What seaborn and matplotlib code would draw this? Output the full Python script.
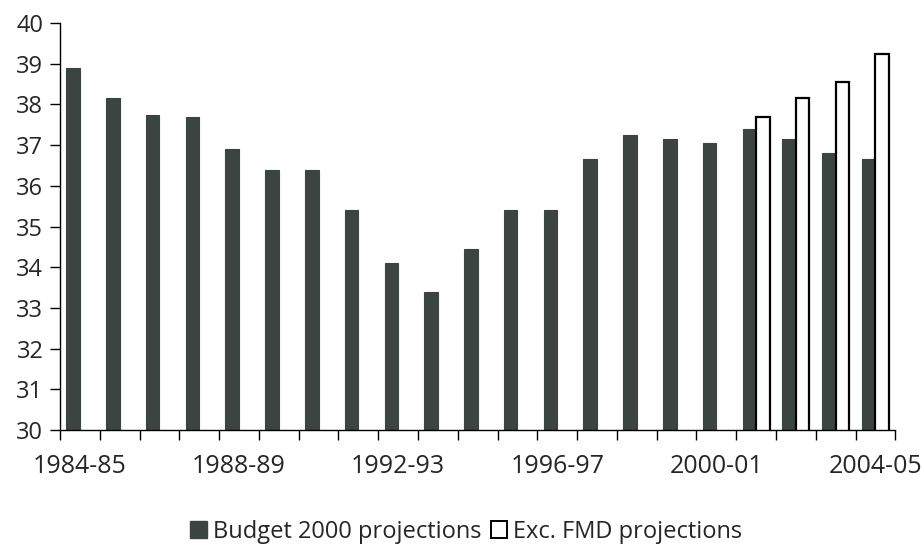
#!/usr/bin/env python3

import numpy as np
import pandas as pd
import matplotlib
matplotlib.use('Agg')
import matplotlib.pyplot as plt
import seaborn as sns

# Data
years = ['1984-85', '1985-86', '1986-87', '1987-88', '1988-89', '1989-90',
         '1990-91', '1991-92', '1992-93', '1993-94', '1994-95', '1995-96',
         '1996-97', '1997-98', '1998-99', '1999-00', '2000-01', '2001-02',
         '2002-03', '2003-04', '2004-05']
budget_2000 = [38.9, 38.15, 37.75, 37.7, 36.9, 36.4, 36.4, 35.4, 34.1, 33.4,
               34.45, 35.4, 35.4, 36.65, 37.25, 37.15, 37.05, 37.4, 37.15,
               36.8, 36.65]
exc_fmd = [np.nan] * 17 + [37.7, 38.15, 38.55, 39.25]

series_names = ['Budget 2000 projections', 'Exc. FMD projections']
shown_labels = ['1984-85', '1988-89', '1992-93', '1996-97', '2000-01', '2004-05']

dark = '#3b4441'

df = pd.DataFrame({
    'year': years * 2,
    'value': budget_2000 + exc_fmd,
    'series': [series_names[0]] * len(years) + [series_names[1]] * len(years),
})

sns.set_style('white')
plt.rcParams['font.family'] = ['Open Sans', 'DejaVu Sans']

fig = plt.figure(figsize=(9.23, 5.5), dpi=100)
ax = fig.add_axes([0.065, 0.218, 0.905, 0.74])

sns.barplot(data=df, x='year', y='value', hue='series', order=years,
            hue_order=series_names, palette=[dark, 'white'], width=0.68,
            saturation=1, legend=False, ax=ax)

# Budget bars: solid dark; FMD bars: white with black outline
for p in ax.containers[0]:
    p.set_edgecolor(dark)
    p.set_linewidth(0.8)
for p in ax.containers[1]:
    p.set_edgecolor('black')
    p.set_linewidth(1.6)

ax.set_ylim(30, 40)
ax.set_xlim(-0.5, len(years) - 0.5)
ax.set_yticks(range(30, 41))
ax.set_xlabel('')
ax.set_ylabel('')

# Labels every 4 years, tick marks on category boundaries
ax.set_xticks([years.index(y) for y in shown_labels])
ax.set_xticklabels(shown_labels)
ax.set_xticks(np.arange(-0.5, len(years), 1.0), minor=True)
ax.tick_params(axis='x', which='major', bottom=False, labelsize=18, pad=14)
ax.tick_params(axis='x', which='minor', bottom=True, length=7, width=1,
               direction='out', color='black')
ax.tick_params(axis='y', left=True, length=7, width=1, direction='out',
               color='black', labelsize=17, pad=5)

for side in ['top', 'right']:
    ax.spines[side].set_visible(False)
for side in ['left', 'bottom']:
    ax.spines[side].set_color('black')
    ax.spines[side].set_linewidth(1.0)

handles = [plt.Rectangle((0, 0), 1, 1, facecolor=dark, edgecolor=dark),
           plt.Rectangle((0, 0), 1, 1, facecolor='white', edgecolor='black',
                         linewidth=1.4)]
fig.legend(handles, series_names, loc='center', bbox_to_anchor=(0.505, 0.033),
           ncol=2, frameon=False, fontsize=17, handlelength=0.7,
           handleheight=0.7, handletextpad=0.25, columnspacing=0.4)

fig.savefig('out.png', dpi=100)
plt.close(fig)
